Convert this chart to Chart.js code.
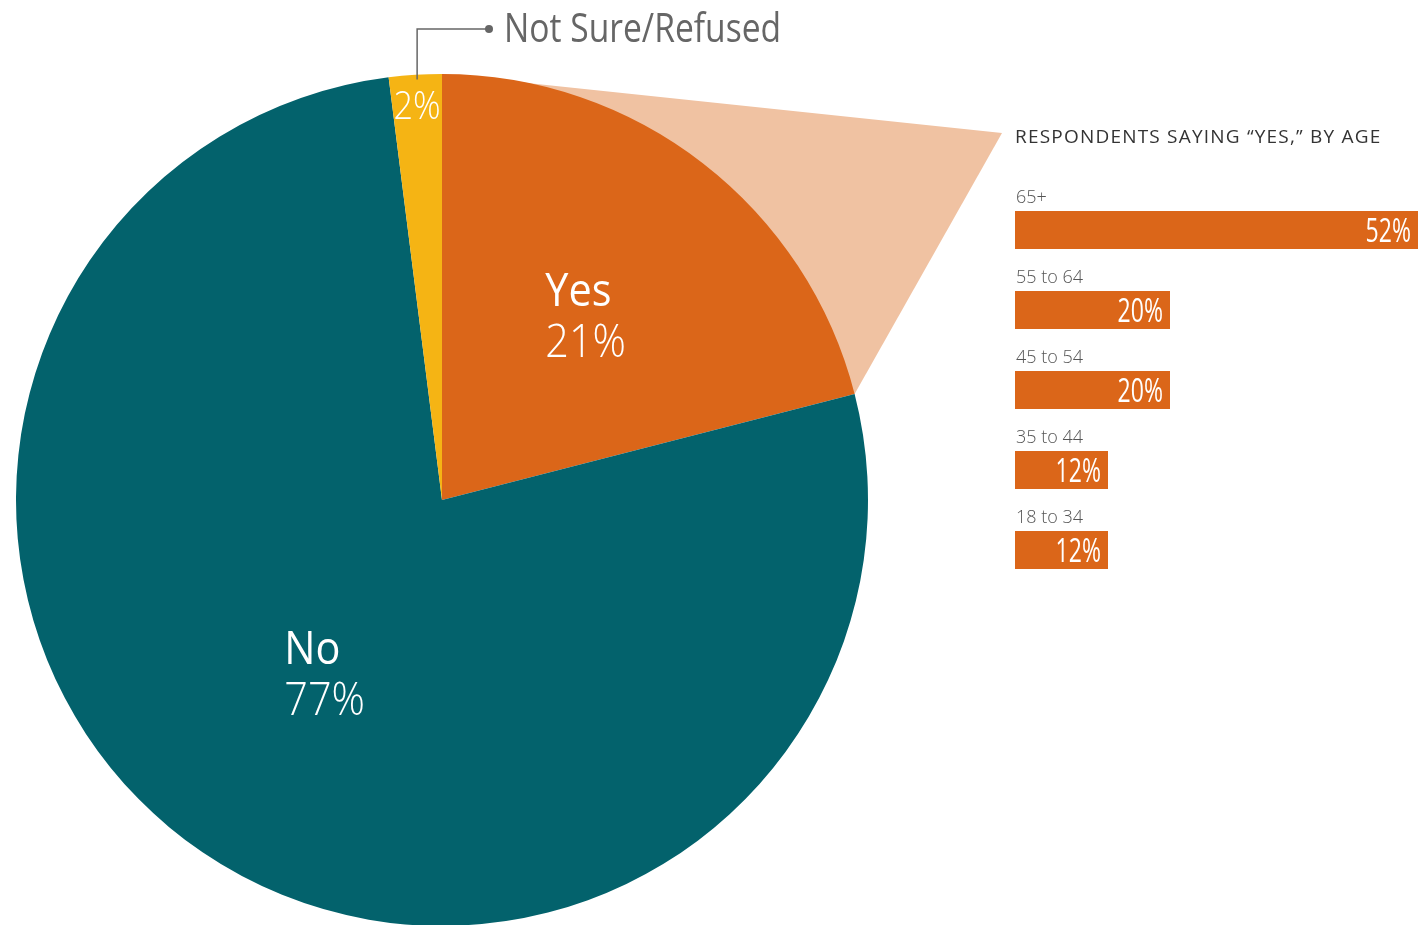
<!DOCTYPE html>
<html>
<head>
<meta charset="utf-8">
<script src="https://cdn.jsdelivr.net/npm/chart.js@4"></script>
<style>
  html, body { margin: 0; padding: 0; background: #fff; overflow: hidden; width: 1418px; height: 925px; }
  #pieChart { position: absolute; left: 0; top: 0; }
  #ageChart { position: absolute; left: 1015px; top: 110px; }
</style>
</head>
<body>
<canvas id="pieChart" width="1418" height="1000"></canvas>
<canvas id="ageChart" width="403" height="480"></canvas>
<script>
const answerLabels = ['Yes', 'No', 'Not Sure/Refused'];
const answerShares = [21, 77, 2];
const answerColors = ['#DB6619', '#03626C', '#F5B414'];

const ageGroups = ['65+', '55 to 64', '45 to 54', '35 to 44', '18 to 34'];
const ageYesShares = [52, 20, 20, 12, 12];
const ageTitle = 'RESPONDENTS SAYING \u201CYES,\u201D BY AGE';

const FONT = '"Open Sans", "Noto Sans", sans-serif';

// draw text squeezed horizontally (the sans faces available are wider than the design face)
function squeezedText(ctx, text, x, y, align, squeeze) {
  const w = ctx.measureText(text).width * squeeze;
  let left = x;
  if (align === 'right') left = x - w;
  if (align === 'center') left = x - w / 2;
  ctx.save();
  ctx.textAlign = 'left';
  ctx.translate(left, y);
  ctx.scale(squeeze, 1);
  ctx.fillText(text, 0, 0);
  ctx.restore();
  return w;
}

// ---- age breakdown (horizontal bars) ----
const ageLabelsPlugin = {
  id: 'ageLabels',
  afterDatasetsDraw(chart) {
    const { ctx, chartArea } = chart;
    ctx.save();
    ctx.fillStyle = '#333';
    ctx.font = `400 19px ${FONT}`;
    ctx.letterSpacing = '1.2px';
    ctx.textBaseline = 'alphabetic';
    ctx.fillText(ageTitle, 0, 33);
    ctx.letterSpacing = '0px';

    chart.getDatasetMeta(0).data.forEach((bar, i) => {
      const top = bar.y - bar.height / 2;
      ctx.fillStyle = '#555';
      ctx.font = `300 18px ${FONT}`;
      ctx.fillText(ageGroups[i], chartArea.left + 1, top - 8);

      ctx.fillStyle = '#fff';
      ctx.font = `400 32px ${FONT}`;
      squeezedText(ctx, `${ageYesShares[i]}%`, bar.x - 7, bar.y + 12, 'right', 0.72);
    });
    ctx.restore();
  },
};

const ageChart = new Chart(document.getElementById('ageChart'), {
  type: 'bar',
  data: {
    labels: ageGroups,
    datasets: [{
      data: ageYesShares,
      backgroundColor: answerColors[0],
      borderWidth: 0,
      categoryPercentage: 1,
      barPercentage: 0.475,
    }],
  },
  options: {
    indexAxis: 'y',
    responsive: false,
    animation: false,
    layout: { padding: { top: 80, left: 0, right: 0, bottom: 0 } },
    scales: {
      x: { display: false, min: 0, max: 52 },
      y: { display: false },
    },
    plugins: { legend: { display: false }, tooltip: { enabled: false } },
  },
  plugins: [ageLabelsPlugin],
});

// ---- main pie ----
function arcPoint(arc, angle, radius) {
  return { x: arc.x + Math.cos(angle) * radius, y: arc.y + Math.sin(angle) * radius };
}

const labelRadius = [0.55, 0.49, 0.93];

const pieExtrasPlugin = {
  id: 'pieExtras',
  beforeDatasetsDraw(chart) {
    // pale wedge fanning out from the "Yes" slice toward the age panel
    const { ctx } = chart;
    const yes = chart.getDatasetMeta(0).data[0];
    const a = arcPoint(yes, yes.startAngle, yes.outerRadius);
    const b = arcPoint(yes, yes.endAngle, yes.outerRadius);
    const tipX = ageChart.canvas.offsetLeft + ageChart.chartArea.left - 13;
    const tipY = ageChart.canvas.offsetTop + 23;
    ctx.save();
    ctx.fillStyle = '#F0C2A2';
    ctx.beginPath();
    ctx.moveTo(a.x, a.y);
    ctx.lineTo(tipX, tipY);
    ctx.lineTo(b.x, b.y);
    ctx.closePath();
    ctx.fill();
    ctx.restore();
  },
  afterDatasetsDraw(chart) {
    const { ctx } = chart;
    const arcs = chart.getDatasetMeta(0).data;
    const squeeze = 0.9;
    ctx.save();
    ctx.fillStyle = '#fff';
    ctx.textBaseline = 'alphabetic';

    // two-line labels inside the large slices
    [0, 1].forEach(i => {
      const arc = arcs[i];
      const mid = (arc.startAngle + arc.endAngle) / 2;
      const p = arcPoint(arc, mid, arc.outerRadius * labelRadius[i]);
      ctx.font = `400 46px ${FONT}`;
      const w1 = ctx.measureText(answerLabels[i]).width * squeeze;
      ctx.font = `300 46px ${FONT}`;
      const w2 = ctx.measureText(`${answerShares[i]}%`).width * squeeze;
      const left = p.x - Math.max(w1, w2) / 2;
      ctx.font = `400 46px ${FONT}`;
      squeezedText(ctx, answerLabels[i], left, p.y - 9, 'left', squeeze);
      ctx.font = `300 46px ${FONT}`;
      squeezedText(ctx, `${answerShares[i]}%`, left, p.y + 42, 'left', squeeze);
    });

    // small slice: value inside, name on a callout
    const small = arcs[2];
    const mid = (small.startAngle + small.endAngle) / 2;
    const p = arcPoint(small, mid, small.outerRadius * labelRadius[2]);
    ctx.font = `300 38px ${FONT}`;
    squeezedText(ctx, `${answerShares[2]}%`, p.x, p.y + 14, 'center', 0.9);

    const lineTop = 29;
    const dotX = 489;
    ctx.strokeStyle = '#666';
    ctx.lineWidth = 1.5;
    ctx.beginPath();
    ctx.moveTo(p.x, p.y - 25);
    ctx.lineTo(p.x, lineTop);
    ctx.lineTo(dotX, lineTop);
    ctx.stroke();
    ctx.fillStyle = '#666';
    ctx.beginPath();
    ctx.arc(dotX, lineTop, 4, 0, Math.PI * 2);
    ctx.fill();
    ctx.font = `400 40px ${FONT}`;
    squeezedText(ctx, answerLabels[2], dotX + 15, 42, 'left', 0.84);
    ctx.restore();
  },
};

new Chart(document.getElementById('pieChart'), {
  type: 'pie',
  data: {
    labels: answerLabels,
    datasets: [{
      data: answerShares,
      backgroundColor: answerColors,
      borderWidth: 0,
    }],
  },
  options: {
    responsive: false,
    animation: false,
    layout: { padding: { left: 16, top: 74, right: 550, bottom: 74 } },
    plugins: { legend: { display: false }, tooltip: { enabled: false } },
  },
  plugins: [pieExtrasPlugin],
});
</script>
</body>
</html>
